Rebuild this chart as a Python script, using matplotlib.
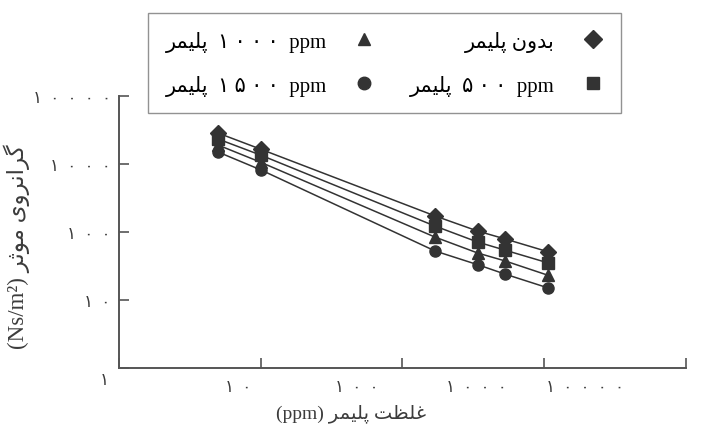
import numpy as np
import matplotlib
matplotlib.use("Agg")
import matplotlib.pyplot as plt
from matplotlib.ticker import FixedLocator, NullFormatter, FixedFormatter

# polymer concentration (ppm) and effective viscosity (Ns/m2)
conc = [5, 10, 170, 340, 530, 1070]
visc_none = [2850, 1650, 172, 103, 79, 51]
visc_500 = [2330, 1350, 122, 71, 54, 35]
visc_1000 = [1900, 1060, 84, 49, 37.5, 23]
visc_1500 = [1500, 820, 52.5, 33, 24, 15]

# poor man's arabic shaping: (isolated, final, initial, medial)
FORMS = {
    "ا": ("\uFE8D", "\uFE8E", None, None),
    "ب": ("\uFE8F", "\uFE90", "\uFE91", "\uFE92"),
    "پ": ("\uFB56", "\uFB57", "\uFB58", "\uFB59"),
    "ت": ("\uFE95", "\uFE96", "\uFE97", "\uFE98"),
    "ث": ("\uFE99", "\uFE9A", "\uFE9B", "\uFE9C"),
    "د": ("\uFEA9", "\uFEAA", None, None),
    "ر": ("\uFEAD", "\uFEAE", None, None),
    "ظ": ("\uFEC5", "\uFEC6", "\uFEC7", "\uFEC8"),
    "غ": ("\uFECD", "\uFECE", "\uFECF", "\uFED0"),
    "گ": ("\uFB92", "\uFB93", "\uFB94", "\uFB95"),
    "ل": ("\uFEDD", "\uFEDE", "\uFEDF", "\uFEE0"),
    "م": ("\uFEE1", "\uFEE2", "\uFEE3", "\uFEE4"),
    "ن": ("\uFEE5", "\uFEE6", "\uFEE7", "\uFEE8"),
    "و": ("\uFEED", "\uFEEE", None, None),
    "ی": ("\uFBFC", "\uFBFD", "\uFBFE", "\uFBFF"),
}


def shape(text):
    out = []
    for i, ch in enumerate(text):
        if ch not in FORMS:
            out.append(ch)
            continue
        prev = text[i - 1] if i > 0 else None
        nxt = text[i + 1] if i + 1 < len(text) else None
        join_prev = prev in FORMS and FORMS[prev][2] is not None
        join_next = nxt in FORMS and FORMS[ch][2] is not None
        iso, fin, ini, med = FORMS[ch]
        if join_prev and join_next:
            out.append(med)
        elif join_prev:
            out.append(fin)
        elif join_next:
            out.append(ini)
        else:
            out.append(iso)
    return "".join(reversed(out))


def fa(n, sep=" "):
    return sep.join("۰۱۲۳۴۵۶۷۸۹"[int(d)] for d in str(n))


plt.rcParams["font.family"] = ["Liberation Serif", "DejaVu Sans"]
ink = "#333333"
txt = "#3c3c3c"

fig = plt.figure(figsize=(7.14, 4.31), dpi=100)
ax = fig.add_axes([119 / 714, 1 - 369 / 431, 567 / 714, 272 / 431])

series = [
    (visc_1000, "^", shape("پلیمر") + "  " + fa(1000) + "  ppm"),
    (visc_1500, "o", shape("پلیمر") + "  " + fa(1500) + "  ppm"),
    (visc_none, "D", shape("بدون پلیمر")),
    (visc_500, "s", shape("پلیمر") + "  " + fa(500) + "  ppm"),
]
for vals, m, lab in series:
    ax.plot(conc, vals, color=ink, lw=1.1, marker=m, ms=8, mfc=ink, mec=ink, label=lab)

ax.set_xscale("log")
ax.set_yscale("log")
ax.set_xlim(1, 10000)
ax.set_ylim(1, 10000)

for s in ["top", "right"]:
    ax.spines[s].set_visible(False)
for s in ["left", "bottom"]:
    ax.spines[s].set_color("#555555")
    ax.spines[s].set_linewidth(1.4)

decades = [1, 10, 100, 1000, 10000]
ax.xaxis.set_major_locator(FixedLocator(decades))
ax.yaxis.set_major_locator(FixedLocator(decades))
ax.tick_params(which="major", direction="in", length=7, width=1.2, color="#555555")
ax.xaxis.set_major_formatter(NullFormatter())

# x labels in the scan sit left of their ticks, drifting more with each decade
xlab_pos = [10 ** 0.84, 10 ** 1.68, 10 ** 2.52, 10 ** 3.29]
ax.xaxis.set_minor_locator(FixedLocator(xlab_pos))
ax.xaxis.set_minor_formatter(FixedFormatter([fa(d, "  ") for d in decades[1:]]))
ax.tick_params(axis="x", which="minor", length=0, pad=8, labelsize=12, labelcolor=txt)

ax.yaxis.set_minor_locator(FixedLocator([]))
ax.yaxis.set_major_formatter(FixedFormatter([""] + [fa(d, "  ") for d in decades[1:]]))
ax.tick_params(axis="y", which="major", pad=6, labelsize=12, labelcolor=txt)
ax.annotate(fa(1), (0, 0), xycoords="axes fraction", xytext=(-11, -9),
            textcoords="offset points", ha="center", va="center", fontsize=12, color=txt)

ax.set_xlabel("(ppm) " + shape("غلظت پلیمر"), fontsize=14, color=txt)
ax.xaxis.set_label_coords(0.41, -0.13)
ax.set_ylabel("(Ns/m²) " + shape("گرانروی موثر"), fontsize=16.5, color=txt)
ax.yaxis.set_label_coords(-0.157, 0.45)

leg = fig.legend(loc="upper left", bbox_to_anchor=(148 / 714, 1 - 14 / 431), ncol=2,
                 markerfirst=False, fontsize=15, frameon=True, fancybox=False,
                 edgecolor="#777777", handlelength=1.0, handletextpad=1.3,
                 columnspacing=1.7, borderpad=0.85, labelspacing=1.1,
                 borderaxespad=0)
leg.get_frame().set_linewidth(1.0)
for h in leg.legend_handles:
    h.set_linestyle("none")
    h.set_markersize(9)

fig.savefig("out.png", dpi=100)
